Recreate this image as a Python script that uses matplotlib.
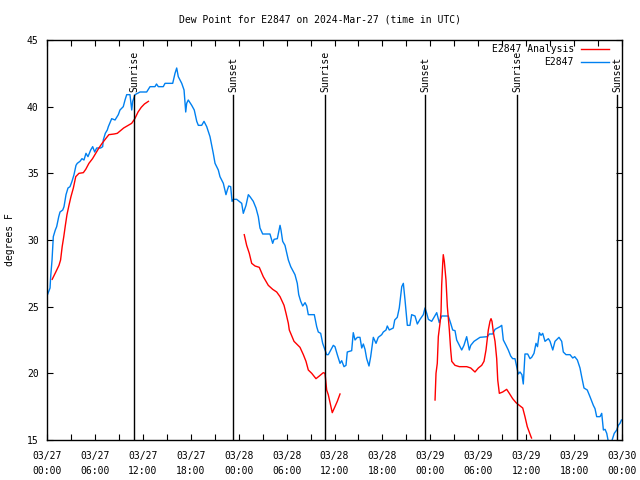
import matplotlib
matplotlib.use('Agg')
import matplotlib.pyplot as plt
import matplotlib.dates as mdates
import matplotlib.transforms as mtransforms
import numpy as np
import pandas as pd

plt.rcParams['font.family'] = 'DejaVu Sans Mono'
plt.rcParams['font.size'] = 7

start = pd.Timestamp('2024-03-27 00:00')

# station observations (hours after start, deg F)
blue_hours = [0.0, 0.13, 0.38, 0.46, 0.63, 0.79, 1.04, 1.21, 1.47, 1.63, 1.97, 2.13, 2.38, 2.63,
              2.88, 3.13, 3.38, 3.63, 3.79, 4.13, 4.38, 4.63, 4.88, 5.13, 5.47, 5.72, 5.97, 6.22,
              6.72, 6.97, 7.05, 7.3, 7.55, 7.68, 8.1, 8.52, 8.93, 9.14, 9.55, 9.77, 9.98, 10.39,
              10.61, 10.73, 11.02, 11.65, 12.48, 12.9, 13.52, 13.71, 13.94, 14.56, 14.78, 15.74,
              16.03, 16.24, 16.44, 16.87, 17.16, 17.37, 17.49, 17.69, 18.12, 18.44, 18.75, 18.95,
              19.37, 19.66, 20.0, 20.41, 20.82, 21.04, 21.45, 21.66, 22.08, 22.41, 22.58, 22.75,
              23.0, 23.17, 23.33, 23.75, 24.38, 24.58, 24.92, 25.21, 25.42, 25.83, 26.17, 26.46,
              26.67, 27.01, 27.92, 28.26, 28.43, 28.84, 29.18, 29.3, 29.51, 29.8, 30.22, 30.52,
              31.05, 31.34, 31.52, 31.77, 32.02, 32.31, 32.52, 32.72, 33.47, 33.77, 33.97, 34.27,
              34.52, 34.81, 35.02, 35.22, 35.85, 36.06, 36.35, 36.69, 36.9, 37.19, 37.44, 37.6,
              38.15, 38.35, 38.57, 38.86, 39.19, 39.41, 39.61, 39.82, 40.03, 40.32, 40.53, 40.86,
              41.2, 41.48, 41.91, 42.11, 42.45, 42.61, 42.86, 43.36, 43.54, 43.86, 44.11, 44.42,
              44.62, 44.83, 45.12, 45.45, 45.66, 46.08, 46.37, 46.71, 47.12, 47.33, 47.55, 47.75,
              48.17, 48.8, 49.12, 49.42, 50.25, 50.55, 50.8, 51.09, 51.3, 51.63, 51.93, 52.21,
              52.55, 52.88, 53.06, 53.47, 54.22, 55.14, 55.39, 55.81, 56.1, 56.72, 56.94, 57.14,
              57.48, 57.76, 58.06, 58.31, 58.6, 58.81, 59.01, 59.23, 59.47, 59.64, 59.85, 60.19,
              60.48, 60.69, 60.98, 61.23, 61.42, 61.65, 61.86, 62.07, 62.36, 62.78, 62.99, 63.33,
              63.61, 64.11, 64.45, 64.65, 64.99, 65.49, 65.83, 66.08, 66.41, 66.74, 66.95, 67.24,
              67.65, 67.99, 68.41, 68.62, 68.83, 69.25, 69.46, 69.67, 69.88, 70.09, 70.28, 70.71,
              71.03, 71.34, 71.54, 71.75, 71.93]
blue_vals = [25.8, 26.0, 26.4, 27.25, 28.5, 30.25, 30.75, 31.0, 31.75, 32.1, 32.25, 32.5, 33.4, 33.9,
             34.0, 34.4, 34.9, 35.6, 35.75, 35.9, 36.1, 36.0, 36.5, 36.25, 36.75, 37.0, 36.6, 36.9,
             36.9, 37.0, 37.5, 38.0, 38.25, 38.5, 39.1, 39.0, 39.4, 39.75, 40.0, 40.5, 40.9, 40.9,
             39.75, 40.4, 40.9, 41.1, 41.1, 41.5, 41.5, 41.7, 41.5, 41.5, 41.75, 41.75,
             42.5, 42.9, 42.25, 41.75, 41.25, 39.6, 40.25, 40.5, 40.1, 39.75, 38.9, 38.6,
             38.6, 38.9, 38.5, 37.75, 36.5, 35.75, 35.25, 34.75, 34.25, 33.4, 33.75, 34.05,
             34.0, 32.9, 33.05, 33.05, 32.75, 32.0, 32.6, 33.4, 33.25, 32.9, 32.4, 31.75,
             30.9, 30.45, 30.45, 29.75, 30.05, 30.1, 31.1, 30.75, 29.9, 29.6, 28.5, 28.0,
             27.4, 26.75, 25.9, 25.4, 25.05, 25.3, 25.05, 24.4, 24.4, 23.5, 23.1, 23.0,
             22.25, 21.75, 21.4, 21.4, 22.1, 22.0, 21.4, 20.75, 20.95, 20.5, 20.6, 21.6,
             21.7, 23.05, 22.5, 22.7, 22.7, 21.9, 22.2, 21.8, 21.1, 20.55, 21.25, 22.7,
             22.25, 22.7, 22.9, 23.1, 23.25, 23.55, 23.25, 23.4, 24.0, 24.2, 24.9, 26.5,
             26.75, 25.5, 23.6, 23.6, 24.4, 24.3, 23.7, 24.05, 24.4, 24.9, 24.5, 24.05,
             23.9, 24.55, 23.8, 24.3, 24.3, 23.75, 23.25, 23.2, 22.5, 22.1, 21.75, 22.1,
             22.75, 21.75, 22.1, 22.4, 22.7, 22.75, 22.95, 22.95, 23.3, 23.5, 23.6, 22.5,
             22.1, 21.75, 21.3, 21.1, 21.1, 20.5, 19.95, 20.1, 19.9, 19.2, 21.45, 21.45,
             21.1, 21.2, 21.5, 22.25, 22.0, 23.05, 22.85, 23.0, 22.4, 22.6, 22.4, 21.75,
             22.4, 22.7, 22.4, 21.6, 21.4, 21.4, 21.15, 21.25, 21.0, 20.4, 19.75, 18.9,
             18.75, 18.25, 17.6, 17.35, 16.75, 16.75, 17.0, 15.75, 15.8, 15.5, 14.9, 14.9,
             15.5, 15.75, 16.1, 16.25, 16.5]

# analysis, three separate pieces
red_hours_1 = [0.65, 1.1, 1.5, 1.7, 1.9, 2.1, 2.3, 2.5, 2.75, 3.0, 3.3, 3.6, 4.0, 4.55, 4.85, 5.25,
               5.7, 6.1, 6.5, 6.9, 7.35, 7.75, 8.4, 8.8, 9.6, 10.6, 11.0, 11.4, 11.8, 12.2, 12.7]
red_vals_1 = [27.05, 27.6, 28.1, 28.5, 29.5, 30.25, 31.1, 31.9, 32.6, 33.25, 33.9, 34.75, 35.0, 35.05,
              35.3, 35.75, 36.1, 36.5, 36.9, 37.25, 37.6, 37.9, 37.95, 38.0, 38.4, 38.75, 39.1,
              39.6, 39.95, 40.2, 40.4]
red_hours_2 = [24.7, 25.0, 25.33, 25.63, 26.05, 26.58, 27.08, 27.71, 28.26, 28.76, 29.18, 29.68,
               29.93, 30.22, 30.34, 30.93, 31.68, 32.1, 32.43, 32.72, 33.15, 33.68, 34.1, 34.6,
               34.81, 35.02, 35.22, 35.72, 36.06, 36.35, 36.69]
red_vals_2 = [30.4, 29.6, 29.0, 28.25, 28.05, 27.95, 27.25, 26.6, 26.3, 26.1, 25.75, 25.1,
              24.5, 23.75, 23.25, 22.4, 21.95, 21.4, 20.9, 20.25, 20.0, 19.6, 19.8, 20.05,
              20.0, 18.75, 18.4, 17.05, 17.5, 17.9, 18.45]
red_hours_3 = [48.59, 48.71, 48.87, 49.0, 49.21, 49.34, 49.42, 49.55, 49.62, 49.75, 49.96, 50.13,
               50.38, 50.55, 50.68, 51.09, 51.63, 52.56, 53.06, 53.59, 54.01, 54.43, 54.72, 54.97,
               55.26, 55.47, 55.6, 55.72, 55.89, 56.1, 56.31, 56.44, 56.64, 57.06, 57.56, 57.89,
               58.31, 58.73, 59.14, 59.57, 59.85, 60.14, 60.57, 60.67]
red_vals_3 = [18.0, 20.0, 20.75, 22.75, 23.75, 24.6, 26.6, 28.25, 28.9, 28.4, 27.0, 25.0,
              23.25, 21.75, 20.9, 20.6, 20.5, 20.5, 20.4, 20.1, 20.4, 20.6, 20.9, 21.75,
              23.25, 23.9, 24.1, 23.9, 23.1, 22.4, 21.1, 19.5, 18.5, 18.6, 18.8, 18.5,
              18.1, 17.8, 17.6, 17.4, 16.75, 16.0, 15.3, 15.15]

# sunrise / sunset times (hours after start)
sun_hours = [10.93, 23.34, 34.85, 47.37, 58.9, 71.42]
sun_labels = ['Sunrise', 'Sunset', 'Sunrise', 'Sunset', 'Sunrise', 'Sunset']


def to_time(hours):
    return start + pd.to_timedelta(np.array(hours), unit='h')


fig = plt.figure(figsize=(6.4, 4.8), dpi=100)
ax = fig.add_axes([47 / 640, 40 / 480, 575 / 640, 400 / 480])

blue = '#0080f0'
ax.plot(to_time(blue_hours), blue_vals, color=blue, lw=1.0)
for hh, vv in [(red_hours_1, red_vals_1), (red_hours_2, red_vals_2), (red_hours_3, red_vals_3)]:
    ax.plot(to_time(hh), vv, color='red', lw=1.0)

trans = mtransforms.blended_transform_factory(ax.transData, ax.transAxes)
for h, lab in zip(sun_hours, sun_labels):
    t = mdates.date2num(to_time([h])[0])
    ax.plot([t, t], [0, 0.862], color='black', lw=1.0, transform=trans)
    ax.text(t, 0.87, lab, rotation=90, ha='center', va='bottom', transform=trans)

ax.set_xlim(start, start + pd.Timedelta(hours=72))
ax.set_ylim(15, 45)
ax.xaxis.set_major_locator(mdates.HourLocator(byhour=[0, 6, 12, 18]))
ax.xaxis.set_minor_locator(mdates.HourLocator(byhour=[3, 9, 15, 21]))
ax.xaxis.set_major_formatter(mdates.DateFormatter('%m/%d\n%H:%M'))
ax.set_yticks(np.arange(15, 46, 5))
ax.tick_params(which='both', direction='in', top=True, right=True, length=4, width=0.8)
ax.tick_params(axis='x', pad=8)
ax.tick_params(axis='y', pad=6)
for lbl in ax.get_xticklabels():
    lbl.set_linespacing(1.6)
for s in ax.spines.values():
    s.set_linewidth(1.0)

# gnuplot-style key, text right-aligned before the sample line
ax.text(0.9165, 0.977, 'E2847 Analysis', ha='right', va='center', transform=ax.transAxes)
ax.plot([0.929, 0.977], [0.977, 0.977], color='red', lw=1.0, transform=ax.transAxes)
ax.text(0.9165, 0.945, 'E2847', ha='right', va='center', transform=ax.transAxes)
ax.plot([0.929, 0.977], [0.945, 0.945], color=blue, lw=1.0, transform=ax.transAxes)

fig.text(0.5, 1 - 19 / 480, 'Dew Point for E2847 on 2024-Mar-27 (time in UTC)', ha='center', va='center')
fig.text(10 / 640, 0.5, 'degrees F', rotation=90, ha='center', va='center')

fig.savefig('out.png', dpi=100)
